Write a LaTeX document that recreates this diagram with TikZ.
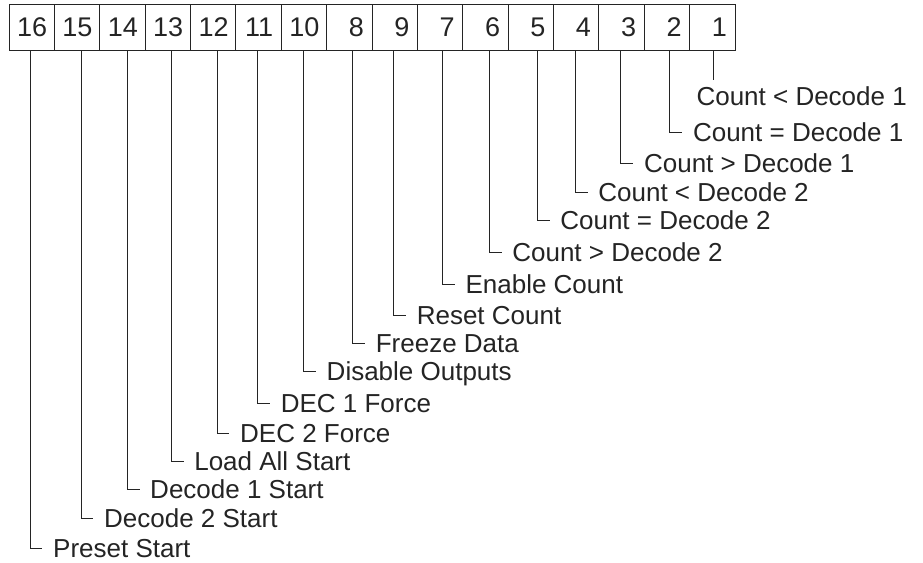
\documentclass[tikz,border=0pt]{standalone}
\usepackage{fontspec}
\setmainfont{Liberation Sans}
\definecolor{ink}{gray}{0.14}
\tikzset{
  cell/.style={draw=ink, line width=0.9pt, minimum width=45.375pt, minimum height=46pt,
    inner xsep=8pt, text width=29.375pt, align=right, outer sep=0pt,
    font=\fontsize{27}{27}\selectfont, text=ink},
  lbl/.style={anchor=west, inner sep=0pt, text height=18.7pt, text depth=0pt,
    font=\fontsize{26}{26}\selectfont, text=ink},
  wire/.style={draw=ink, line width=0.9pt, shorten >=10.5pt},
}
\begin{document}
\begin{tikzpicture}[x=1pt, y=-1pt]
  \useasboundingbox (0,0) rectangle (923,562);
  % Terminal strip, pins in printed order
  \foreach \n [count=\i] in {16,15,14,13,12,11,10,8,9,7,6,5,4,3,2,1} {
    \node[cell] (c\n) at ({9+(\i-0.5)*45.375}, 27) {\n}; % one box per pin
  }
  % Lead-out point under each pin
  \foreach \n/\dx in {16/-1.7,15/3.9,14/4.6,13/3.3,12/3.8,11/-1,10/-0.4,8/3.3,
                      9/-1.1,7/2.3,6/3.7,5/6.3,4/-1,3/-0.7,2/2.9,1/1.5} {
    \coordinate (p\n) at ([xshift=\dx pt]c\n.south);
  }

  % Pin 1 drops straight onto its label
  \path (p1 |- 0,96) ++(-17.5,0) node[lbl] (l1) {Count < Decode 1};
  \draw[wire, shorten >=6.8pt] (p1) -- (p1 |- l1.north);

  % All other pins bend right into their labels
  \foreach \n/\y/\txt in {2/132/Count = Decode 1,
                          3/163/Count > Decode 1,
                          4/192/Count < Decode 2,
                          5/220/Count = Decode 2,
                          6/252/Count > Decode 2,
                          7/284/Enable Count,
                          9/315/Reset Count,
                          8/343/Freeze Data,
                          10/371/Disable Outputs,
                          11/403/DEC 1 Force,
                          12/433/DEC 2 Force,
                          13/461/Load All Start,
                          14/489/Decode 1 Start,
                          15/518/Decode 2 Start,
                          16/548/Preset Start} {
    \path (p\n |- 0,\y) ++(23,0) node[lbl] (l\n) {\txt};
    \draw[wire] (p\n) |- (l\n.west); % elbow lead
  }
\end{tikzpicture}
\end{document}
